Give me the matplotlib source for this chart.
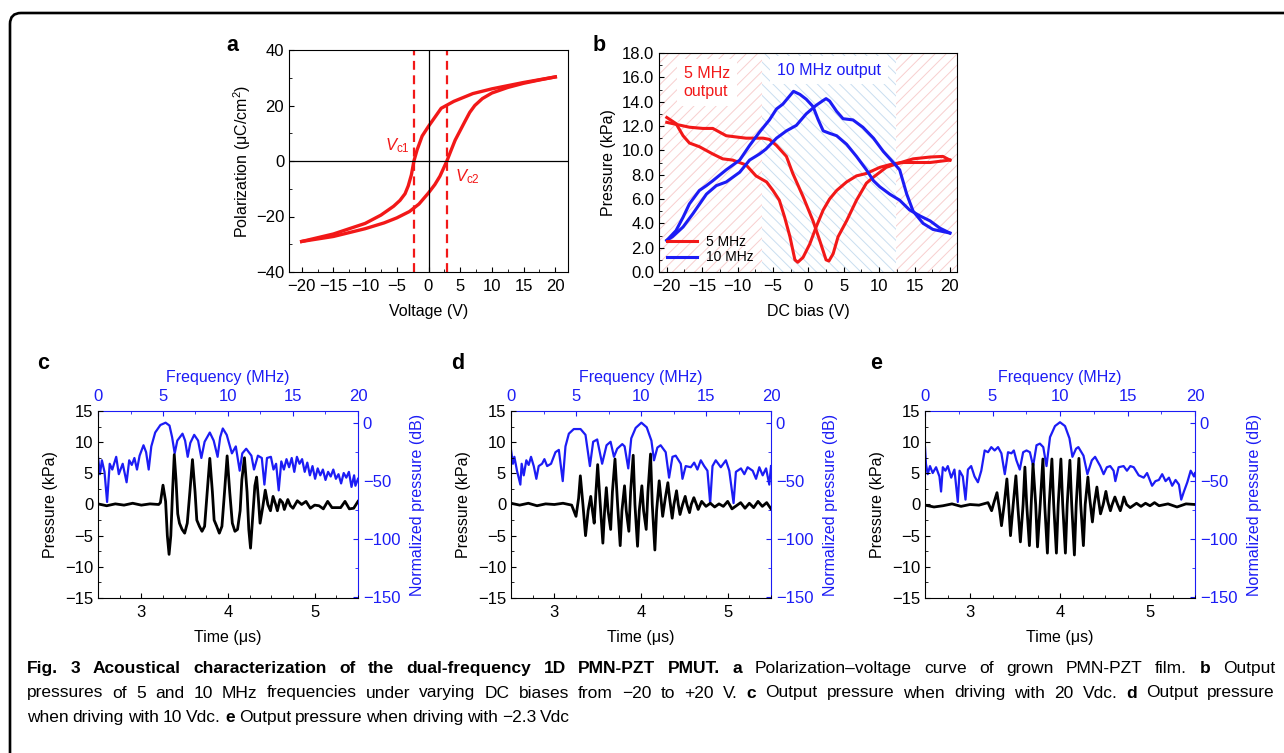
import matplotlib.pyplot as plt
from matplotlib.patches import FancyBboxPatch
from matplotlib.transforms import IdentityTransform
from matplotlib.ticker import MultipleLocator, FormatStrFormatter

plt.rcParams['font.family'] = ['Liberation Sans', 'DejaVu Sans']
plt.rcParams['mathtext.fontset'] = 'custom'
plt.rcParams['mathtext.rm'] = 'Liberation Sans'
plt.rcParams['mathtext.it'] = 'Liberation Sans:italic'
plt.rcParams['font.size'] = 11.5
plt.rcParams['xtick.labelsize'] = 12
plt.rcParams['ytick.labelsize'] = 12
plt.rcParams['xtick.major.pad'] = 5
plt.rcParams['hatch.linewidth'] = 0.7

RED = '#f21818'
BLUE = '#1c1cf5'
PINK = '#f8cfcf'
LBLUE = '#c9def0'

# ---- panel a: polarization-voltage loop ----
pv_down_v = [20, 15, 10, 7, 4, 2, 0, -1, -1.8, -2.3, -2.7, -3.2, -3.7, -4.5, -5.5, -7.5, -10, -15, -20]
pv_down_p = [30.3, 28.3, 26, 24.3, 21.5, 19, 12.5, 9, 4, 0, -5, -9, -11.8, -14.2, -16.3, -19.5, -22.5, -26.3, -29]
pv_up_v = [-20, -15, -10, -7, -5, -3, -1.5, 0, 1, 1.8, 2.4, 2.9, 3.5, 4.2, 5, 5.8, 6.5, 7.3, 8.5, 10, 12.5, 15, 17.5, 20]
pv_up_p = [-29, -27.2, -24.4, -22.3, -20.5, -18.2, -15.5, -11.5, -8.5, -5.5, -2.5, 0, 3.5, 7.5, 11, 14.5, 17.5, 20, 22.5, 24.5, 26.5, 28, 29.2, 30.3]
vc = [-2.3, 2.9]

# ---- panel b: pressure vs DC bias ----
b5a_v = [-20, -16.8, -14.9, -13.5, -11.6, -8.8, -6.4, -5.5, -4.5, -3.1, -2.2, -0.75, 0.66, 1.6, 2.5, 2.9, 3.5, 4.2, 5.4, 6.8, 8.2, 9.2, 11, 12.5, 14.8, 17.2, 19, 20]
b5a_p = [12.3, 11.9, 11.8, 11.8, 11.2, 11.0, 11.0, 10.9, 10.4, 9.5, 8.1, 6.2, 4.2, 2.6, 1.0, 0.9, 1.5, 2.9, 4.2, 5.9, 7.3, 7.8, 8.6, 8.9, 9.3, 9.45, 9.5, 9.2]
b5b_v = [-20, -18.7, -17.7, -16.8, -15.4, -13.5, -12.1, -10.7, -8.8, -7.4, -5.9, -5, -4.1, -3.35, -2.6, -1.9, -1.5, -0.75, 0.2, 1.1, 2.1, 3, 4, 5.4, 6.8, 8.2, 10.1, 12, 13.4, 14.8, 17.2, 18.6, 20]
b5b_p = [12.7, 12.2, 11.2, 10.6, 10.3, 9.7, 9.3, 9.2, 8.8, 7.9, 7.4, 6.7, 5.9, 4.5, 2.9, 1.0, 0.8, 1.2, 2.3, 3.7, 5.1, 6.0, 6.7, 7.4, 7.9, 8.1, 8.6, 8.9, 9.0, 9.0, 9.0, 9.1, 9.2]
b10a_v = [-20, -18.7, -17.7, -16.8, -15.4, -14.4, -13.5, -11.6, -9.7, -8.3, -6.9, -5.5, -4.5, -3.6, -2.6, -2.1, -1.2, -0.3, 0.66, 1.4, 2.1, 3, 4, 5.4, 6.8, 8.2, 9.2, 10.1, 11.5, 12.9, 14.3, 15.8, 17.2, 18.6, 20]
b10a_p = [2.6, 3.4, 4.5, 5.6, 6.7, 7.1, 7.5, 8.4, 9.2, 10.4, 11.5, 12.5, 13.4, 13.8, 14.5, 14.85, 14.6, 14.2, 13.6, 12.5, 11.6, 11.4, 11.2, 10.5, 9.5, 8.4, 7.5, 7.0, 6.4, 5.9, 5.1, 4.6, 4.2, 3.6, 3.2]
b10b_v = [-20, -19.2, -17.7, -16.3, -14.4, -13, -11.6, -9.7, -8.3, -6.9, -6, -4.5, -3.1, -1.7, -0.3, 1.1, 2.1, 2.5, 3, 4, 4.9, 6.3, 7.7, 9.2, 10.6, 12, 12.9, 13.9, 14.8, 16.2, 17.6, 20]
b10b_p = [2.6, 2.9, 3.7, 4.8, 6.4, 7.1, 7.4, 8.2, 9.2, 9.7, 10.1, 11.0, 11.6, 12.05, 13.0, 13.7, 14.1, 14.25, 14.05, 13.2, 12.6, 12.5, 11.9, 11.0, 9.9, 9.0, 8.4, 6.4, 5.0, 4.0, 3.5, 3.2]
zone_5a = (-21.1, -6.6)
zone_10 = (-6.6, 12.4)
zone_5b = (12.4, 21.0)

# ---- panel c: 20 Vdc ----
c_t = [2.5, 2.6, 2.7, 2.8, 2.9, 3.0, 3.1, 3.2, 3.22, 3.25, 3.28, 3.3, 3.32, 3.34, 3.36, 3.38, 3.4, 3.42, 3.44, 3.47, 3.5, 3.53, 3.56, 3.59, 3.62, 3.64, 3.67, 3.7, 3.73, 3.76, 3.79, 3.82, 3.84, 3.87, 3.9, 3.93, 3.96, 3.99, 4.02, 4.05, 4.08, 4.11, 4.14, 4.16, 4.19, 4.22, 4.24, 4.26, 4.28, 4.31, 4.33, 4.35, 4.37, 4.4, 4.43, 4.46, 4.49, 4.52, 4.55, 4.57, 4.6, 4.63, 4.65, 4.69, 4.72, 4.75, 4.8, 4.85, 4.9, 4.95, 5.0, 5.05, 5.1, 5.15, 5.2, 5.3, 5.35, 5.4, 5.45, 5.5]
c_p = [0.1, -0.2, 0.1, -0.1, 0.2, -0.1, 0.1, 0.0, 0.3, 3.1, 0.5, -5, -8, -5, 2, 8, 4, -1.5, -3, -4, -4.6, -3, 2, 7.2, 2, -2.5, -3.5, -4.3, -3.5, 2, 7.4, 2, -2.5, -3.5, -4.6, -3.5, 2, 7.8, 2, -3, -4.3, -4, -1, 4, 7.5, 2, -4, -7, -3, 3, 4.4, 1, -3, -0.5, 2.3, 0, -1, 1.3, 0, -1, 0.8, 0.3, -0.8, 0.8, -0.2, -0.6, 0.6, 0, 0.5, -0.6, -0.1, -0.2, -0.7, 0.5, -0.5, -0.5, 0.5, -0.7, -0.6, 0.5]
c_f = [0, 0.15, 0.3, 0.5, 0.7, 0.9, 1.1, 1.4, 1.6, 1.9, 2.2, 2.4, 2.6, 2.8, 3.0, 3.2, 3.5, 3.7, 3.9, 4.1, 4.4, 4.8, 5.2, 5.5, 5.7, 5.9, 6.1, 6.5, 6.7, 6.9, 7.1, 7.4, 7.7, 7.95, 8.2, 8.6, 8.9, 9.2, 9.4, 9.6, 9.9, 10.3, 10.6, 10.9, 11.1, 11.4, 11.8, 12.0, 12.3, 12.6, 12.8, 13.0, 13.3, 13.5, 13.7, 13.9, 14.1, 14.3, 14.5, 14.7, 14.9, 15.1, 15.3, 15.5, 15.7, 15.9, 16.1, 16.3, 16.5, 16.7, 16.9, 17.1, 17.3, 17.5, 17.7, 17.9, 18.1, 18.3, 18.5, 18.7, 18.9, 19.1, 19.3, 19.5, 19.7, 19.8, 20]
c_db = [-29, -44, -32, -42, -68, -35, -40, -29, -44, -35, -51, -32, -36, -30, -40, -28, -19, -25, -40, -20, -8, -1.5, 0.5, -2, -12, -26, -15, -9, -15, -29, -17, -10, -15, -30, -16, -8, -15, -29, -12, -4.5, -10, -26, -20, -41, -26, -22, -28, -40, -28, -30, -53, -30, -29, -40, -35, -58, -33, -40, -31, -38, -30, -42, -29, -35, -31, -42, -34, -45, -37, -48, -39, -45, -40, -49, -42, -46, -40, -48, -44, -52, -43, -47, -42, -55, -45, -54, -48]

# ---- panel d: 10 Vdc ----
d_t = [2.5, 2.6, 2.7, 2.8, 2.9, 3.0, 3.1, 3.2, 3.25, 3.28, 3.3, 3.33, 3.36, 3.39, 3.42, 3.44, 3.46, 3.48, 3.5, 3.53, 3.56, 3.58, 3.6, 3.62, 3.65, 3.67, 3.7, 3.73, 3.76, 3.78, 3.81, 3.83, 3.86, 3.88, 3.91, 3.93, 3.96, 3.98, 4.01, 4.03, 4.06, 4.08, 4.11, 4.13, 4.16, 4.18, 4.21, 4.23, 4.25, 4.28, 4.31, 4.33, 4.36, 4.38, 4.41, 4.43, 4.45, 4.48, 4.51, 4.53, 4.56, 4.58, 4.61, 4.64, 4.66, 4.7, 4.75, 4.8, 4.85, 4.9, 4.95, 5.0, 5.05, 5.1, 5.15, 5.2, 5.25, 5.3, 5.35, 5.4, 5.45, 5.5]
d_p = [0.2, -0.1, 0.2, -0.2, 0.1, 0.0, 0.2, -0.1, -1.9, 1, 4.6, 0, -5, -1, 1.3, -1, -3, 2, 6.4, 0, -6.2, -1, 2.7, -1, -4, 2, 7.3, 0, -6.6, -1, 3, -1, -4.3, 2, 7.9, 0, -6.7, -1, 3, -1, -4, 2, 8.1, 0, -7.3, -1, 3.8, 1, -1.9, 1, 3.5, 1, -2.2, 0, 2.2, 0, -1.6, 0, 1.3, 0, -1.3, 0, 1.1, 0, -0.8, 0.5, -0.3, 0.2, -0.4, 0.1, -0.3, 0.5, -0.7, -0.2, 0.3, -0.6, 0.2, -0.5, 0.5, -0.3, 0.3, -0.7]
d_f = [0, 0.15, 0.26, 0.46, 0.72, 0.82, 0.98, 1.18, 1.36, 1.54, 1.75, 1.95, 2.13, 2.39, 2.57, 2.78, 3.08, 3.42, 3.68, 3.98, 4.19, 4.45, 4.83, 5.35, 5.73, 6.07, 6.32, 6.63, 7.01, 7.35, 7.66, 7.92, 8.17, 8.56, 8.74, 9.02, 9.25, 9.59, 10.03, 10.44, 10.8, 11.0, 11.26, 11.51, 11.9, 12.16, 12.42, 12.67, 13.06, 13.19, 13.44, 13.83, 14.09, 14.34, 14.6, 14.86, 15.11, 15.32, 15.5, 15.75, 16.14, 16.53, 16.79, 17.12, 17.3, 17.69, 17.95, 18.2, 18.59, 18.85, 19.1, 19.36, 19.62, 19.87, 20]
d_db = [-23, -35, -29, -41, -53, -35, -45, -32, -36, -29, -37, -48, -37, -35, -31, -37, -35, -25, -23, -50, -20, -9, -5, -5, -10, -37, -16, -14, -35, -19, -16, -29, -22, -18, -20, -39, -13, -4, 0.5, -3.5, -15, -32, -21, -19, -25, -47, -29, -28, -35, -48, -37, -38, -34, -40, -32, -37, -41, -69, -37, -32, -38, -32, -41, -69, -42, -39, -44, -38, -41, -48, -38, -45, -39, -53, -37]

# ---- panel e: -2.3 Vdc ----
e_t = [2.5, 2.6, 2.7, 2.8, 2.9, 3.0, 3.1, 3.2, 3.24, 3.27, 3.3, 3.33, 3.35, 3.38, 3.41, 3.43, 3.45, 3.48, 3.51, 3.53, 3.56, 3.59, 3.61, 3.63, 3.66, 3.68, 3.7, 3.73, 3.75, 3.78, 3.81, 3.83, 3.86, 3.88, 3.91, 3.93, 3.96, 3.98, 4.01, 4.03, 4.06, 4.08, 4.11, 4.13, 4.16, 4.18, 4.21, 4.23, 4.26, 4.28, 4.31, 4.33, 4.36, 4.38, 4.41, 4.43, 4.45, 4.48, 4.51, 4.53, 4.56, 4.58, 4.61, 4.64, 4.67, 4.69, 4.71, 4.74, 4.78, 4.85, 4.9, 4.95, 5.0, 5.05, 5.1, 5.2, 5.3, 5.4, 5.5]
e_p = [-0.1, -0.4, -0.2, 0.1, -0.3, 0, -0.1, 0.3, -1, 0.5, 1.9, -1, -3.4, 0, 4.1, 0, -5, 0, 4.6, 0, -6, 0, 6, 0, -6.6, 0, 6.5, 0, -6.8, 0, 7.3, 0, -7.8, 0, 7.3, 0, -7.8, 0, 7.3, 0, -7.8, 0, 7.1, 0, -8.1, 0, 7.4, 0, -6.6, 0, 4.4, 1, -2.8, 0, 2.8, 0.5, -1.5, 0, 2.1, 0.5, -1, 0, 1.2, 0, -1, 0, 1.2, 0, -0.5, 0.2, -0.3, 0.2, -0.2, 0.3, -0.2, 0.1, -0.4, 0.1, 0]
e_f = [0, 0.07, 0.2, 0.37, 0.57, 0.82, 1.07, 1.19, 1.32, 1.51, 1.69, 1.94, 2.18, 2.43, 2.56, 2.8, 3.0, 3.18, 3.42, 3.67, 3.92, 4.17, 4.42, 4.67, 4.91, 5.16, 5.41, 5.66, 5.91, 6.15, 6.4, 6.58, 6.77, 7.02, 7.27, 7.52, 7.77, 8.01, 8.26, 8.51, 8.76, 9.0, 9.26, 9.63, 10.0, 10.37, 10.7, 10.92, 11.19, 11.36, 11.74, 12.03, 12.36, 12.6, 12.98, 13.23, 13.47, 13.72, 13.97, 14.1, 14.34, 14.71, 14.96, 15.21, 15.46, 15.83, 16.2, 16.45, 16.82, 17.07, 17.32, 17.57, 17.82, 18.07, 18.31, 18.56, 18.81, 18.98, 19.18, 19.43, 19.68, 19.93, 20]
e_db = [-20.6, -35, -44, -37, -43, -38, -46, -59, -38, -41, -37, -47, -40, -68, -41, -46, -66, -40, -37, -46, -51, -41, -23.5, -25, -20.6, -23.5, -20.6, -26, -44, -25, -26, -23.5, -32, -40, -25, -23.5, -25, -37, -19, -17.6, -20.6, -37, -12, -2.4, 0.9, -2.4, -13, -29, -22, -20.6, -28, -44, -32, -29, -37, -44, -38, -37, -41, -50, -38, -37, -41, -37, -38, -45, -47, -43, -54, -50, -49, -44, -50, -47, -54, -49, -53, -66, -59, -51, -41, -46, -43]

caption = [
    [('Fig. 3 Acoustical characterization of the dual-frequency 1D PMN-PZT PMUT.', True), ('a', True),
     ('Polarization–voltage curve of grown PMN-PZT film.', False), ('b', True), ('Output', False)],
    [('pressures of 5 and 10 MHz frequencies under varying DC biases from −20 to +20 V.', False), ('c', True),
     ('Output pressure when driving with 20 Vdc.', False), ('d', True), ('Output pressure', False)],
    [('when driving with 10 Vdc.', False), ('e', True), ('Output pressure when driving with −2.3 Vdc', False)],
]

W, H = 1284, 753
fig = plt.figure(figsize=(W / 100, H / 100), dpi=100)


def rect(x0, y0, x1, y1):
    return [x0 / W, 1 - y1 / H, (x1 - x0) / W, (y1 - y0) / H]


def letter(x, y, s):
    fig.text(x / W, 1 - y / H, s, fontsize=15.5, fontweight='bold', ha='left', va='baseline')


# outer rounded frame
fig.add_artist(FancyBboxPatch((10, -60), 1400, H - 13 + 60, boxstyle='round,pad=0,rounding_size=11',
                              transform=IdentityTransform(), fill=False, lw=1.9, ec='k'))

# panel a
ax = fig.add_axes(rect(289, 50, 568, 272))
ax.plot(pv_down_v, pv_down_p, color=RED, lw=2.4)
ax.plot(pv_up_v, pv_up_p, color=RED, lw=2.4)
ax.axhline(0, color='k', lw=0.9)
ax.axvline(0, color='k', lw=0.9)
for v in vc:
    ax.axvline(v, color=RED, lw=1.6, ls=(0, (4, 2.5)))
ax.text(-3.0, 5.6, r'$V_{\rm c1}$', color=RED, fontsize=12, ha='right', va='center')
ax.text(4.2, -5.8, r'$V_{\rm c2}$', color=RED, fontsize=12, ha='left', va='center')
ax.set_xlim(-22, 22)
ax.set_ylim(-40, 40)
ax.xaxis.set_major_locator(MultipleLocator(5))
ax.xaxis.set_minor_locator(MultipleLocator(2.5))
ax.yaxis.set_major_locator(MultipleLocator(20))
ax.yaxis.set_minor_locator(MultipleLocator(10))
ax.tick_params(which='both', direction='in')
ax.set_xlabel('Voltage (V)', labelpad=7)
ax.set_ylabel('Polarization (μC/cm$^2$)', labelpad=2)
letter(226, 51, 'a')

# panel b
ax = fig.add_axes(rect(659, 53, 957, 272))
ax.axvspan(*zone_5a, facecolor='none', edgecolor=PINK, hatch='///', lw=0, zorder=0)
ax.axvspan(*zone_10, facecolor='none', edgecolor=LBLUE, hatch='\\\\\\', lw=0, zorder=0)
ax.axvspan(*zone_5b, facecolor='none', edgecolor=PINK, hatch='///', lw=0, zorder=0)
ax.plot(b5a_v, b5a_p, color=RED, lw=2.2, label='5 MHz')
ax.plot(b5b_v, b5b_p, color=RED, lw=2.2)
ax.plot(b10a_v, b10a_p, color=BLUE, lw=2.2, label='10 MHz')
ax.plot(b10b_v, b10b_p, color=BLUE, lw=2.2)
ax.text(-17.6, 15.6, '5 MHz\noutput', color=RED, fontsize=11.5, ha='left', va='center', linespacing=1.25,
        bbox=dict(fc='white', ec='none', pad=5), zorder=1)
ax.text(-4.4, 16.6, '10 MHz output', color=BLUE, fontsize=11.5, ha='left', va='center',
        bbox=dict(fc='white', ec='none', pad=5), zorder=1)
ax.legend(loc='lower left', frameon=False, fontsize=10, handlelength=2.2, labelspacing=0.1,
          borderaxespad=0.15, handletextpad=0.6)
ax.set_xlim(-21.1, 21)
ax.set_ylim(0, 18)
ax.xaxis.set_major_locator(MultipleLocator(5))
ax.xaxis.set_minor_locator(MultipleLocator(2.5))
ax.yaxis.set_major_locator(MultipleLocator(2))
ax.yaxis.set_minor_locator(MultipleLocator(1))
ax.yaxis.set_major_formatter(FormatStrFormatter('%.1f'))
ax.tick_params(which='both', direction='in')
ax.set_xlabel('DC bias (V)', labelpad=7)
ax.set_ylabel('Pressure (kPa)', labelpad=4)
letter(593, 51, 'b')


def wave_panel(box, t, p, f, db, tag, lx):
    ax = fig.add_axes(rect(*box))
    axr = ax.twinx()
    axf = axr.twiny()
    axf.plot(f, db, color=BLUE, lw=1.6)
    ax.plot(t, p, color='k', lw=2.0, solid_joinstyle='round')
    ax.set_zorder(axf.get_zorder() + 1)
    ax.patch.set_visible(False)
    ax.set_xlim(2.5, 5.5)
    ax.set_ylim(-15, 15)
    axr.set_ylim(-151, 10.6)
    axf.set_xlim(0, 20)
    ax.spines['top'].set_visible(False)
    ax.spines['right'].set_visible(False)
    for s in ('left', 'bottom', 'top'):
        axr.spines[s].set_visible(False)
    for s in ('left', 'bottom', 'right'):
        axf.spines[s].set_visible(False)
    axr.spines['right'].set_color(BLUE)
    axf.spines['top'].set_color(BLUE)
    ax.xaxis.set_major_locator(MultipleLocator(1))
    ax.xaxis.set_minor_locator(MultipleLocator(0.25))
    ax.yaxis.set_major_locator(MultipleLocator(5))
    ax.yaxis.set_minor_locator(MultipleLocator(2.5))
    axr.yaxis.set_major_locator(MultipleLocator(50))
    axr.yaxis.set_minor_locator(MultipleLocator(25))
    axf.xaxis.set_major_locator(MultipleLocator(5))
    axf.xaxis.set_minor_locator(MultipleLocator(2.5))
    ax.tick_params(which='both', direction='in', top=False, right=False)
    axr.tick_params(which='both', direction='in', colors=BLUE)
    axf.tick_params(which='both', direction='in', colors=BLUE)
    ax.set_xlabel('Time (μs)', labelpad=7)
    ax.set_ylabel('Pressure (kPa)', labelpad=5)
    axr.set_ylabel('Normalized pressure (dB)', color=BLUE, labelpad=7)
    axf.set_xlabel('Frequency (MHz)', color=BLUE, labelpad=5)
    letter(lx, 369, tag)


wave_panel((98, 411, 358, 598), c_t, c_p, c_f, c_db, 'c', 37)
wave_panel((511, 411, 771, 598), d_t, d_p, d_f, d_db, 'd', 451)
wave_panel((925, 411, 1195, 598), e_t, e_p, e_f, e_db, 'e', 870)

# caption, justified word by word
cap_kw = dict(fontsize=12.5, va='baseline', ha='left')
renderer = fig.canvas.get_renderer()
x0, x1 = 27, 1275
for i, segs in enumerate(caption):
    y = 673 + 24.5 * i
    words = [(w, b) for s, b in segs for w in s.split()]
    texts = [fig.text(0, 1 - y / H, w, fontweight='bold' if b else 'normal', **cap_kw) for w, b in words]
    widths = [t.get_window_extent(renderer).width for t in texts]
    if i < len(caption) - 1:
        gap = (x1 - x0 - sum(widths)) / (len(words) - 1)
    else:
        gap = 4.0
    x = x0
    for t, w in zip(texts, widths):
        t.set_x(x / W)
        x += w + gap

fig.savefig('out.png', dpi=100)
